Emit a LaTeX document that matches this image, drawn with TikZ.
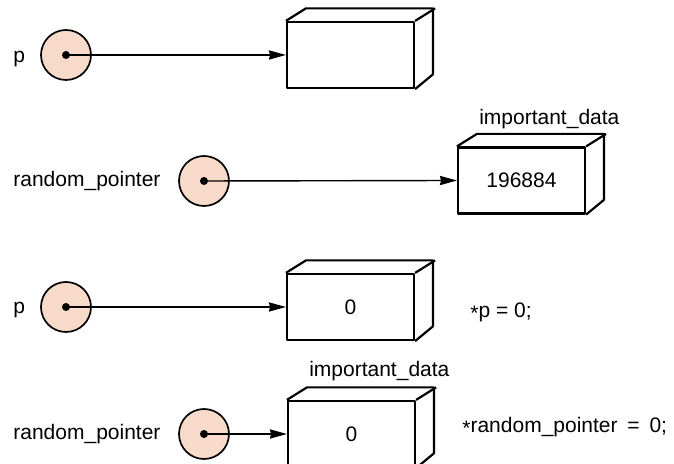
\documentclass[tikz,border=0pt]{standalone}
\usepackage{fontspec}
\setmainfont{Liberation Sans}
\definecolor{peach}{RGB}{248,218,202}
\usetikzlibrary{arrows.meta}
\newcommand{\deref}{\raisebox{-1.5pt}{*}}
\tikzset{
    ptr/.style = {circle, draw, line width=0.85pt, fill=peach, minimum size=25pt, inner sep=0pt},
    lbl/.style = {anchor=base west, inner sep=0pt},
    ptrarrow/.style = {-{Stealth[length=8.5pt, width=4.6pt, inset=0.6pt]}, line width=0.7pt},
    databox/.pic = {
    \node[draw, line width=1.1pt, minimum width=63.5pt, minimum height=33pt, inner sep=0pt] (-front) {#1};
    \draw[line width=1.1pt] (-front.north west) -- ++(20,12.5) -- ++(127,0) -- ++(0,-66) -- (-front.south east);
    \draw[line width=1.1pt] (-front.north east) -- ++(20,12.5);
    }
}

\begin{document}
\begin{tikzpicture}[line join=round,x=0.5pt,y=0.5pt,font=\fontsize{10.5}{12}\selectfont]
    \useasboundingbox (0,0) rectangle (674,464);
    \clip (0,0) rectangle (674,464);

    % p -> box
    \node[lbl] (p1) at (13,401) {p};
    \node[ptr] (c1) at (66,409) {};
    \path (350.5,409) pic (b1) {databox={}};
    \draw[ptrarrow] (c1.center) -- (b1-front.west);
    \fill (c1.center) circle (4);

    % random_pointer -> important_data
    \node[lbl] (r2) at (13,277) {random\_pointer};
    \node[ptr] (c2) at (204,283) {};
    \path (521.5,283.5) pic (b2) {databox={196884}};
    \node[lbl] (d2) at ([shift={(22,22)}]b2-front.north west) {important\_data};
    \draw[ptrarrow] (c2.center) -- (b2-front.west);
    \fill (c2.center) circle (4);

    % *p = 0
    \node[lbl] (p3) at (13,150) {p};
    \node[ptr] (c3) at (66,157) {};
    \path (350.5,157) pic (b3) {databox={0}};
    \draw[ptrarrow] (c3.center) -- (b3-front.west);
    \fill (c3.center) circle (4);
    \node[lbl] (s3) at (470,146) {\deref p = 0;};

    % *random_pointer = 0
    \node[lbl] (r4) at (13,24) {random\_pointer};
    \node[ptr] (c4) at (204,30) {};
    \path (351.5,30) pic (b4) {databox={0}};
    \node[lbl] (d4) at ([shift={(22,23)}]b4-front.north west) {important\_data};
    \draw[ptrarrow] (c4.center) -- (b4-front.west);
    \fill (c4.center) circle (4);
    \node[lbl] (s4) at (462,31) {\deref random\_pointer\hspace{2pt} =\hspace{2pt} 0;};
\end{tikzpicture}
\end{document}
